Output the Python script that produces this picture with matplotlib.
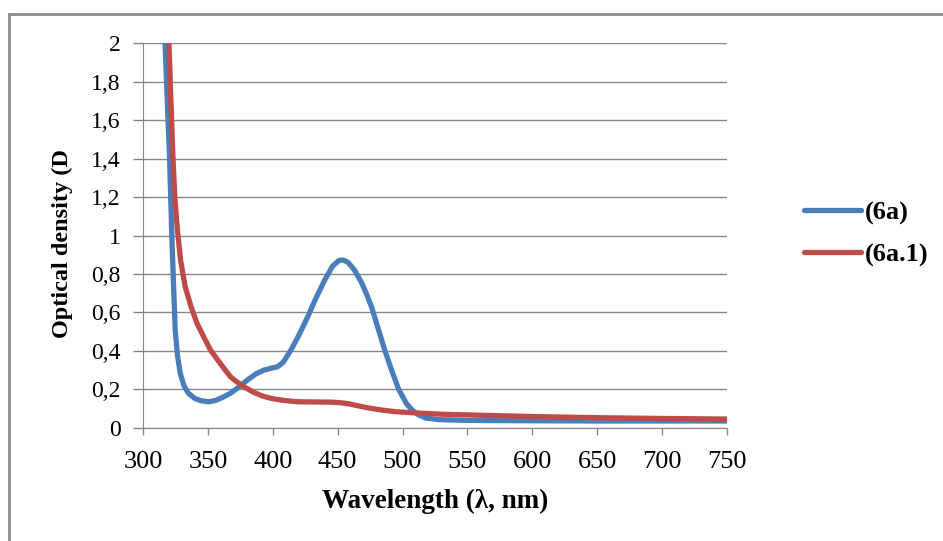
import numpy as np
import matplotlib.pyplot as plt
from matplotlib.patches import Rectangle

# spectra (wavelength nm, optical density)
wl_6a = [317, 318.7, 320.4, 322.2, 323.5, 324.8, 326.5, 328.7, 331.5, 335,
         340, 345, 350.6, 356, 362, 367.4, 374, 380.4, 387, 393.3,
         399, 403.6, 408, 414, 420, 427, 433, 440, 446, 451,
         454, 458, 463, 468, 472, 476, 481, 486, 491, 497,
         503, 508, 512, 518, 528, 550, 600, 650, 700, 750]
od_6a = [2.0, 1.7, 1.42, 1.0, 0.75, 0.51, 0.38, 0.283, 0.22, 0.179,
         0.152, 0.14, 0.135, 0.142, 0.16, 0.179, 0.212, 0.248, 0.28, 0.30,
         0.31, 0.317, 0.34, 0.404, 0.48, 0.578, 0.67, 0.768, 0.84, 0.87,
         0.873, 0.86, 0.82, 0.76, 0.70, 0.63, 0.52, 0.41, 0.31, 0.20,
         0.125, 0.088, 0.068, 0.05, 0.042, 0.038, 0.036, 0.035, 0.035, 0.035]

wl_6a1 = [320, 321.5, 323, 324.5, 326.5, 329, 332.5, 337, 341.6, 347,
          352, 360, 367.4, 372, 377.8, 385, 392, 398.4, 408, 419,
          430, 445, 452, 458, 465, 472, 483.7, 495, 509.5, 530,
          553, 600, 650, 700, 750]
od_6a1 = [2.0, 1.7, 1.42, 1.2, 1.03, 0.87, 0.734, 0.63, 0.543, 0.47,
          0.404, 0.33, 0.265, 0.24, 0.213, 0.185, 0.165, 0.153, 0.142, 0.135,
          0.134, 0.133, 0.13, 0.125, 0.115, 0.105, 0.092, 0.083, 0.077, 0.07,
          0.066, 0.058, 0.052, 0.048, 0.045]

x_ticks = list(range(300, 751, 50))
y_ticks = [0, 0.2, 0.4, 0.6, 0.8, 1, 1.2, 1.4, 1.6, 1.8, 2]
y_labels = ['0', '0,2', '0,4', '0,6', '0,8', '1', '1,2', '1,4', '1,6', '1,8', '2']

plt.rcParams['font.family'] = ['Liberation Serif', 'DejaVu Serif']

fig = plt.figure(figsize=(9.43, 5.41), dpi=100)
fig.patches.append(Rectangle((9 / 943, -0.1), 1.2, 1.1 - 14 / 541,
                             transform=fig.transFigure, fill=False,
                             edgecolor='#8c8c8c', lw=2))
ax = fig.add_axes([143 / 943, 1 - 427.7 / 541, 584 / 943, 384.4 / 541])

ax.plot(wl_6a, od_6a, color='#4A7EBB', lw=3.8, label='(6a)', solid_capstyle='round')
ax.plot(wl_6a1, od_6a1, color='#BE4B48', lw=3.8, label='(6a.1)', solid_capstyle='round')

ax.set_xlim(300, 750)
ax.set_ylim(0, 2)
ax.set_xticks(x_ticks)
ax.set_yticks(y_ticks)
ax.set_yticklabels(y_labels)
ax.tick_params(color='#868686', width=1)
ax.tick_params(axis='x', labelsize=19, length=5, pad=12)
ax.tick_params(axis='y', labelsize=17, length=7, pad=9)
ax.grid(axis='y', color='#868686', lw=1)
ax.set_axisbelow(True)
for s in ['top', 'right']:
    ax.spines[s].set_visible(False)
for s in ['left', 'bottom']:
    ax.spines[s].set_color('#868686')

ax.set_xlabel('Wavelength (λ, nm)', fontsize=19.5, fontweight='bold')
ax.xaxis.set_label_coords(0.5, -0.16)
ax.set_ylabel('Optical density (D', fontsize=17.5, fontweight='bold')
ax.yaxis.set_label_coords(-0.12, 0.478)

ax.legend(loc='center left', bbox_to_anchor=(804 / 943, 1 - 234 / 541),
          bbox_transform=fig.transFigure, frameon=False, borderpad=0,
          borderaxespad=0, prop={'size': 19, 'weight': 'bold'},
          handlelength=2.15, handletextpad=0.15, labelspacing=0.7)

fig.savefig('out.png', dpi=100)
